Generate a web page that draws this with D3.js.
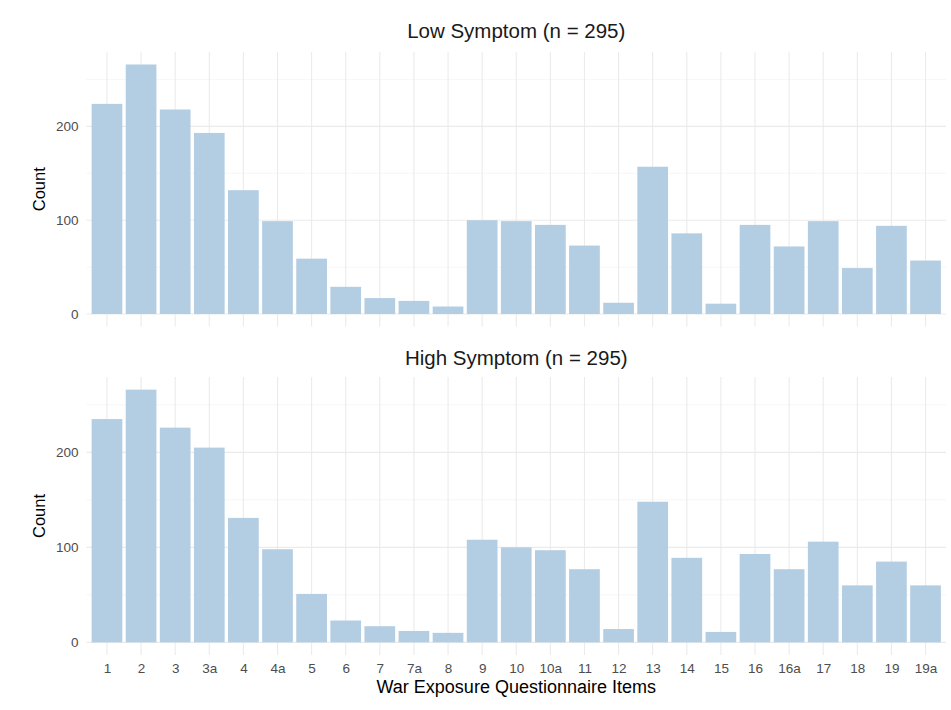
<!DOCTYPE html>
<html>
<head>
<meta charset="utf-8">
<script src="https://cdn.jsdelivr.net/npm/d3@7"></script>
<style>
  body { margin: 0; background: #fff; }
  text { font-family: "Liberation Sans", Arial, sans-serif; }
</style>
</head>
<body>
<svg id="chart" width="951" height="710"></svg>
<script>
// data
var items = ['1', '2', '3', '3a', '4', '4a', '5', '6', '7', '7a', '8', '9', '10', '10a',
             '11', '12', '13', '14', '15', '16', '16a', '17', '18', '19', '19a'];
var lowCounts = [224, 266, 218, 193, 132, 99, 59, 29, 17, 14, 8, 100, 99, 95,
                 73, 12, 157, 86, 11, 95, 72, 99, 49, 94, 57];
var highCounts = [235, 266, 226, 205, 131, 98, 51, 23, 17, 12, 10, 108, 100, 97,
                  77, 14, 148, 89, 11, 93, 77, 106, 60, 85, 60];
var yTicks = [0, 100, 200];
var yMinor = [50, 150, 250];

var panels = [
  { title: 'Low Symptom (n = 295)', values: lowCounts, top: 52, bottom: 326.5, titleY: 38, labels: false },
  { title: 'High Symptom (n = 295)', values: highCounts, top: 377, bottom: 655, titleY: 365, labels: true }
];

var svg = d3.select('#chart');
var left = 86.5, right = 946;

var x = d3.scalePoint().domain(items).range([left, right]).padding(0.6);
var barW = x.step() * 0.9;

var maxVal = d3.max(lowCounts.concat(highCounts));
var yDomain = [-0.05 * maxVal, maxVal * 1.05];

panels.forEach(function(p) {
  var y = d3.scaleLinear().domain(yDomain).range([p.bottom, p.top]);
  var g = svg.append('g');

  // grid
  g.selectAll('.minor').data(yMinor).enter().append('line')
    .attr('x1', left).attr('x2', right)
    .attr('y1', function(d) { return y(d); }).attr('y2', function(d) { return y(d); })
    .attr('stroke', '#f2f2f2').attr('stroke-width', 0.7);
  g.selectAll('.major').data(yTicks).enter().append('line')
    .attr('x1', left).attr('x2', right)
    .attr('y1', function(d) { return y(d); }).attr('y2', function(d) { return y(d); })
    .attr('stroke', '#ebebeb').attr('stroke-width', 1.1);
  g.selectAll('.vgrid').data(items).enter().append('line')
    .attr('x1', function(d) { return x(d); }).attr('x2', function(d) { return x(d); })
    .attr('y1', p.top).attr('y2', p.bottom)
    .attr('stroke', '#ebebeb').attr('stroke-width', 1.1);

  // bars
  g.selectAll('.bar').data(p.values).enter().append('rect')
    .attr('x', function(d, i) { return x(items[i]) - barW / 2; })
    .attr('width', barW)
    .attr('y', function(d) { return y(d); })
    .attr('height', function(d) { return y(0) - y(d); })
    .attr('fill', '#b3cde3');

  // y axis
  var yAxis = d3.axisLeft(y).tickValues(yTicks).tickSize(0).tickPadding(8);
  var ya = g.append('g').attr('transform', 'translate(' + left + ',0)').call(yAxis);
  ya.select('.domain').remove();
  ya.selectAll('text').attr('fill', '#4d4d4d').style('font-size', '13.5px');

  // x axis labels
  if (p.labels) {
    var xAxis = d3.axisBottom(x).tickSize(0).tickPadding(8);
    var xa = g.append('g').attr('transform', 'translate(0,' + p.bottom + ')').call(xAxis);
    xa.select('.domain').remove();
    xa.selectAll('text').attr('fill', '#4d4d4d').style('font-size', '13.5px');
  }

  // title
  g.append('text')
    .attr('x', (left + right) / 2).attr('y', p.titleY)
    .attr('text-anchor', 'middle')
    .style('font-size', '20.5px').attr('fill', '#1a1a1a')
    .text(p.title);

  // y title
  g.append('text')
    .attr('transform', 'translate(45,' + ((p.top + p.bottom) / 2) + ') rotate(-90)')
    .attr('text-anchor', 'middle')
    .style('font-size', '16.5px').attr('fill', '#000')
    .text('Count');
});

svg.append('text')
  .attr('x', (left + right) / 2).attr('y', 693)
  .attr('text-anchor', 'middle')
  .style('font-size', '18px').attr('fill', '#000')
  .text('War Exposure Questionnaire Items');
</script>
</body>
</html>
